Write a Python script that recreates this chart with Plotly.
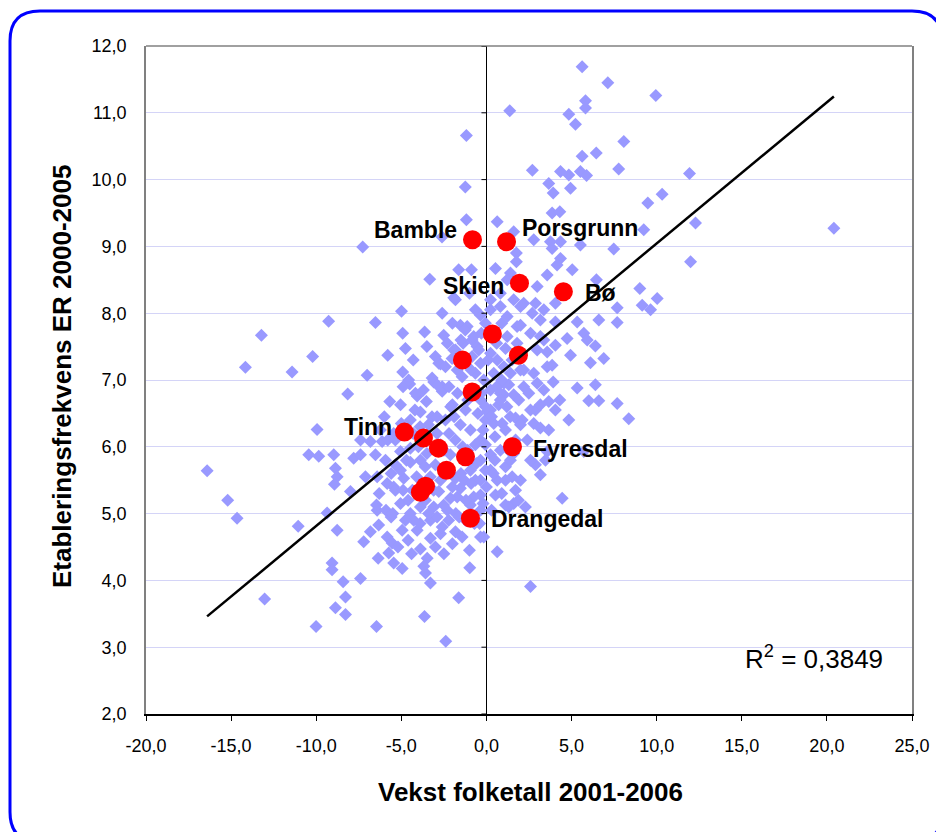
import numpy as np
import plotly.graph_objects as go

# ---------------- data ----------------
# all municipalities (blue diamonds)
blue_x = [
    -1.18, -1.24, -1.18, -2.61, -7.27, -1.63, -0.88, -3.33, -1.92, 0.63, 0.53, -4.99, -9.27, -6.52,
    -13.22, -4.92, -3.63, -2.51, -4.76, -10.21, -5.80, -1.53, -1.13, -0.35, 0.24, -1.37, -0.55,
    5.62, 7.13, 9.95, 5.82, 5.82, 1.37, 4.84, 5.23, 8.07, 5.62, 6.45, 2.70, 4.35, 4.84, 5.52, 5.88,
    7.77, 11.93, 3.66, 3.92, 4.94, 9.48, 10.32, 3.86, 4.31, 1.60, 2.78, 3.76, 4.35, 3.86, 5.52,
    9.24, 12.28, 20.41, 7.48, 11.99, 1.76, 1.76, 4.35, 4.15, 5.04, 3.57, 1.41, 6.46, 9.01, 10.03,
    9.15, 9.64, 7.68, 7.68, 6.60, 2.98, 4.05, 2.88, 1.60, 2.00, 3.17, 4.05, 5.33, 5.72, 5.92, 4.74,
    6.40, 4.05, 3.57, 6.89, 4.94, 0.82, 1.22, 0.24, 1.80,
    6.11, 3.86, 6.40, 5.33, 3.92, 2.98, 6.01, 6.60, 7.68, 8.36, 4.84, 3.66, 4.31, 2.88, 2.49, 1.71,
    2.10, 2.78, 3.66, 3.17, 0.43, 0.92, 0.04, 0.72, 5.72, 3.57, 2.88, 1.12, 1.51, 0.63, 4.45, 1.60,
    1.31, -0.16, 0.63, 2.59, 2.19, 1.31, 1.02, 0.24, -0.06,
    -14.16, -11.42, -7.01, -8.15, -5.68, -4.92, -4.51, -4.07, -3.53, -3.10, -2.60, -2.70, -1.82,
    -16.41, -15.20, -14.65, -11.06, -9.95, -10.44, -9.85, -8.97, -8.87, -8.77, -8.93, -9.36, -8.77,
    -7.99, -7.80, -7.40, -7.11, -6.42, -6.46, -6.42, -7.21, -6.82, -6.33, -5.60, -5.83, -6.36, -5.54,
    -5.74, -5.45, -4.95, -4.95, -9.07, -9.07, -7.40, -8.42, -8.28, -8.87, -8.28, -13.03, -10.01,
    -6.46, -3.64, -2.39, -1.63, -0.98, -3.29, -3.88, -3.48, -3.68, -3.58, -3.00, -4.07, -4.47, -4.27,
    -5.05, -2.22, -1.43, -1.82, -0.35, -2.70, -3.29, -6.82, -6.13, -6.23, -7.40, -5.45, -5.05, -5.83,
    -5.45, -4.86, -3.88, -3.10, -2.51, -1.72, -0.75, -2.80,
    -1.82, -1.24, -1.92, -2.80, -2.41, -2.02, -4.57, -4.17, -3.19, -2.90, -2.60, -1.72, -1.43, -0.84,
    -0.84,
    -0.65, -0.75, -0.45, -0.35, -0.65, -0.16, 1.22, 0.82, 2.19, 3.37, 2.69, -0.06, 2.00, 2.59, 3.17,
    1.22, 1.12, 1.80, 2.98, 3.37, 0.24, 0.63, 1.02, 0.43, 1.41, 2.00, 2.78, 3.57, 2.19, 1.02, 0.82,
    1.60, 3.37,
    -5.05, -3.88, -2.00, -1.23, -2.41, -1.53, -0.94, -5.35, -4.47, -1.82, -0.65, -3.88, -3.00, -2.12,
    -5.05, -4.47, -1.82, -0.94, -0.35, -2.70, -4.35, -1.53, -0.65, -3.58, -2.12, -4.76, -3.29, -0.94,
    -1.23, -5.35, -5.35, -5.93, -6.52, -2.70, -3.41, -4.47, -0.06, -0.06, -0.35, 0.24, -0.35,
    -0.35, 0.24, 0.82, 1.12, 1.71, 2.00, 2.59, 3.17, 4.05, 0.82, -0.06, 0.24, 1.12, 1.71, -0.35, 0.53,
    -0.35, 2.00, 2.59, 3.47, 3.17, 1.41, 1.12, 1.88, 2.29,
    -4.20, -3.20, -2.90, -2.20, -1.90, -0.50, -0.20, 0.50, 1.40, 0.60,
    -4.00, -3.50, -2.50, -1.40, -1.10, 0.50, -4.10, -3.30, -2.40, -1.30,
    -0.90, 0.00, -3.90, -3.10, -2.00, -1.20, -0.20, 0.30, -2.90, -1.80,
    -5.60, -5.80, -5.00, -4.30, -6.30, -4.60, -5.90, -6.00, -3.70, -2.20,
    -1.10, -0.60, 0.30, -1.50, -2.30, -3.00, -2.00, -0.30, 0.60, 0.90,
    -4.30, -3.50, -1.00, -2.60, 1.60, 1.90, 1.20, 2.40, 0.90, -0.70,
    -4.60, -3.90, -2.60, -2.00, -1.60, -5.20, -4.40, -2.50, -1.00, -0.40,
    -5.50, -4.90, -3.40, -2.30, -1.50, -0.60, -3.60, -4.70, -2.90, -3.90,
    -1.70, -0.90, 0.10, 0.90, -0.30, 1.50, -2.10, -4.90, 0.40, 1.30,
]
blue_y = [
    10.66, 9.89, 9.40, 9.14, 8.99, 8.65, 8.65, 8.51, 8.23, 9.37, 8.67, 8.03, 7.88, 7.86,
    7.67, 7.70, 7.72, 7.67, 7.47, 7.35, 7.37, 7.82, 7.80, 7.97, 8.05, 7.55, 7.50,
    11.69, 11.45, 11.26, 11.18, 11.07, 11.03, 10.98, 10.83, 10.57, 10.35, 10.40, 10.14, 10.12, 10.07,
    10.12, 10.06, 10.16, 10.09, 9.94, 9.80, 9.87, 9.65, 9.78, 9.50, 9.52, 9.22, 9.10, 9.07, 9.07,
    8.97, 9.02, 9.25, 9.35, 9.27, 8.96, 8.77, 8.90, 8.77, 8.82, 8.72, 8.65, 8.57, 8.60, 8.50, 8.37,
    8.22, 8.12, 8.05, 8.08, 7.86, 7.90, 8.40, 8.15, 8.15, 8.20, 8.10, 7.90, 7.87, 7.87, 7.70, 7.60,
    7.62, 7.51, 7.52, 7.42, 7.32, 7.37, 8.10, 7.95, 8.20, 7.80,
    7.26, 7.22, 6.93, 6.88, 6.97, 6.95, 6.69, 6.69, 6.65, 6.42, 6.40, 6.68, 6.70, 6.55, 6.80, 6.43,
    6.40, 6.35, 6.25, 6.28, 6.35, 6.35, 6.53, 6.63, 5.93, 5.93, 5.73, 5.70, 5.55, 5.50, 5.23, 5.15,
    5.10, 4.65, 4.43, 3.91, 7.15, 6.93, 6.78, 6.85, 6.60,
    7.19, 7.12, 7.07, 6.79, 6.68, 7.12, 6.94, 6.76, 6.68, 6.97, 6.90, 7.24, 7.45,
    5.64, 5.20, 4.93, 4.81, 6.26, 5.88, 5.86, 5.88, 5.68, 5.55, 5.44, 5.01, 4.75,
    5.33, 5.83, 5.88, 5.55, 5.55, 5.13, 5.05, 4.58, 4.73, 4.83, 4.95, 4.65, 4.33, 4.56,
    4.41, 4.26, 4.18, 4.75, 4.26, 4.16, 4.03, 3.98, 3.75, 3.59, 3.49, 3.72, 3.31,
    3.31, 3.46, 3.09, 3.74, 4.19, 3.96, 4.47, 4.33, 4.21, 4.11, 4.50, 4.75, 5.00, 4.90,
    5.15, 4.90, 4.65, 4.73, 4.65, 4.70, 4.63, 6.08, 6.08, 6.25, 6.10, 6.20, 5.93, 5.45,
    5.40, 5.53, 5.10, 5.10, 5.13, 5.25, 5.25, 5.33,
    8.20, 7.75, 7.45, 7.25, 7.20, 7.32, 7.00, 6.80, 7.03, 6.93, 6.83, 7.15, 7.05, 7.60,
    7.35,
    8.05, 7.65, 7.45, 7.25, 7.10, 7.00, 8.50, 8.30, 8.15, 8.05, 8.00, 7.85, 7.82, 7.70, 7.65,
    7.65, 7.47, 7.55, 7.45, 7.60, 7.40, 7.30, 7.20, 7.10, 7.10, 7.15, 7.10, 7.20, 6.90, 6.95, 6.80,
    6.78, 6.85,
    6.63, 6.52, 6.63, 6.55, 6.40, 6.33, 6.25, 6.10, 5.98, 6.10, 6.03, 5.80, 5.73, 5.88,
    5.65, 5.77, 5.53, 5.65, 5.80, 5.50, 5.35, 5.38, 5.50, 5.20, 5.23, 4.90, 4.90, 5.13,
    4.90, 5.35, 5.73, 5.80, 5.88, 6.03, 6.33, 6.40, 6.40, 5.65, 5.28, 5.88, 6.10,
    6.70, 6.55, 6.70, 6.25, 6.10, 6.33, 6.55, 6.63, 6.55, 5.95, 6.03, 5.65, 5.50, 5.35, 5.50, 5.28,
    5.05, 5.50, 5.80, 5.80, 5.58, 5.80, 5.13, 5.20, 5.10,
    6.55, 6.45, 6.20, 6.20, 6.45, 6.50, 6.25, 6.15, 6.45, 6.90,
    6.00, 5.90, 5.95, 6.00, 5.95, 5.80, 5.55, 5.55, 5.60, 5.50,
    5.45, 5.40, 5.30, 5.35, 5.40, 5.20, 5.15, 5.05, 4.95, 5.00,
    5.60, 6.10, 6.35, 6.20, 5.30, 5.20, 5.05, 6.45, 6.85, 6.90,
    6.70, 6.85, 6.45, 7.60, 7.55, 7.35, 7.85, 7.70, 7.55, 7.85,
    7.30, 7.50, 8.30, 8.00, 5.90, 6.70, 6.60, 6.10, 5.30, 4.85,
    4.60, 4.85, 4.80, 4.55, 4.95, 4.50, 4.40, 4.40, 4.45, 4.85,
    5.00, 5.35, 5.00, 5.05, 5.60, 5.75, 5.70, 5.80, 6.45, 6.30,
    6.80, 7.15, 7.30, 7.00, 6.80, 7.30, 6.60, 6.90, 5.60, 5.95,
]

# Telemark municipalities (red circles)
red_names = ["Bamble", "Porsgrunn", "Skien", "Bø", "", "", "", "", "Tinn", "", "", "", "", "", "",
             "Drangedal", "Fyresdal"]
red_x = [-0.82, 1.18, 1.94, 4.52, 0.35, 1.88, -1.41, -0.84, -4.82, -3.70, -2.82, -1.23, -2.35,
         -3.58, -3.88, -0.94, 1.53]
red_y = [9.10, 9.07, 8.45, 8.32, 7.69, 7.37, 7.30, 6.82, 6.22, 6.13, 5.98, 5.85, 5.65,
         5.41, 5.32, 4.93, 6.00]

# linear trendline (Excel) and its R²
trend_slope = 0.2114
trend_intercept = 6.93
r2_text = "R<sup>2</sup> = 0,3849"

x_ticks = [-20, -15, -10, -5, 0, 5, 10, 15, 20, 25]
x_tick_labels = ["-20,0", "-15,0", "-10,0", "-5,0", "0,0", "5,0", "10,0", "15,0", "20,0", "25,0"]
y_ticks = [2, 3, 4, 5, 6, 7, 8, 9, 10, 11, 12]
y_tick_labels = ["2,0", "3,0", "4,0", "5,0", "6,0", "7,0", "8,0", "9,0", "10,0", "11,0", "12,0"]

x_title = "Vekst folketall 2001-2006"
y_title = "Etableringsfrekvens ER 2000-2005"

# ---------------- styling ----------------
FONT = "Arial, 'Liberation Sans', sans-serif"
label_offsets = {  # (xanchor, xshift px, yshift px)
    "Bamble": ("right", -13, 10),
    "Porsgrunn": ("left", 13, 14),
    "Skien": ("right", -13, -3),
    "Bø": ("left", 20, -1),
    "Tinn": ("right", -10, 5),
    "Fyresdal": ("left", 19, -2),
    "Drangedal": ("left", 19, -1),
}

# page is offset by the default 8px body margin; figure fills the rest of the 944x832 window
OFF = 8
W, H = 944 - OFF, 832 - OFF
PL, PR, PT, PB = 146, 912, 46, 714          # plot area in page pixels
L, R, T, B = PL - OFF, 944 - PR, PT - OFF, 832 - PB
pw, ph = PR - PL, PB - PT


def px2paper_x(px):
    return (px - PL) / pw


def px2paper_y(py):
    return (PB - py) / ph


fig = go.Figure()

fig.add_trace(go.Scatter(
    x=blue_x, y=blue_y, mode="markers",
    marker=dict(symbol="diamond", size=10, color="#9999ff", line=dict(width=0)),
    hoverinfo="skip", showlegend=False,
))
fig.add_trace(go.Scatter(
    x=red_x, y=red_y, mode="markers",
    marker=dict(symbol="circle", size=19, color="#ff0000", line=dict(width=0)),
    text=red_names, hoverinfo="text", showlegend=False,
))

all_x = np.array(blue_x + red_x)
tx = np.array([all_x.min(), all_x.max()])
ty = trend_slope * tx + trend_intercept
fig.add_trace(go.Scatter(
    x=tx, y=ty, mode="lines", line=dict(color="black", width=2.5),
    hoverinfo="skip", showlegend=False,
))

annotations = []
for name, xv, yv in zip(red_names, red_x, red_y):
    if not name:
        continue
    anchor, xs, ys = label_offsets[name]
    annotations.append(dict(
        x=xv, y=yv, xref="x", yref="y", text=f"<b>{name}</b>", showarrow=False,
        xanchor=anchor, yanchor="middle", xshift=xs, yshift=ys,
        font=dict(family=FONT, size=23, color="black"),
    ))

annotations.append(dict(
    x=px2paper_x(814), y=px2paper_y(657), xref="paper", yref="paper", text=r2_text,
    showarrow=False, xanchor="center", yanchor="middle",
    font=dict(family=FONT, size=26, color="black"),
))
annotations.append(dict(
    x=px2paper_x(530), y=px2paper_y(792), xref="paper", yref="paper", text=f"<b>{x_title}</b>",
    showarrow=False, xanchor="center", yanchor="middle",
    font=dict(family=FONT, size=26, color="black"),
))
annotations.append(dict(
    x=px2paper_x(62), y=px2paper_y(377), xref="paper", yref="paper", text=f"<b>{y_title}</b>",
    showarrow=False, xanchor="center", yanchor="middle", textangle=-90,
    font=dict(family=FONT, size=26, color="black"),
))

shapes = []
# top frame line
shapes.append(dict(type="line", xref="paper", yref="paper", x0=0, x1=1, y0=1, y1=1,
                   line=dict(color="#808080", width=1.5)))
# tick marks on the vertical axis crossing at x=0
for v in y_ticks:
    shapes.append(dict(type="line", xref="x", yref="y", xsizemode="pixel", xanchor=0,
                       x0=-5, x1=0, y0=v, y1=v, line=dict(color="black", width=1)))
# rounded blue outer frame (runs past the bottom edge of the window)
fl, fr = px2paper_x(10), px2paper_x(942)
ft, fb = px2paper_y(11), px2paper_y(842)
rx, ry = 30 / pw, 30 / ph
path = (f"M {fl+rx},{ft} L {fr-rx},{ft} Q {fr},{ft} {fr},{ft-ry} "
        f"L {fr},{fb+ry} Q {fr},{fb} {fr-rx},{fb} "
        f"L {fl+rx},{fb} Q {fl},{fb} {fl},{fb+ry} "
        f"L {fl},{ft-ry} Q {fl},{ft} {fl+rx},{ft} Z")
shapes.append(dict(type="path", xref="paper", yref="paper", path=path,
                   line=dict(color="#0000ff", width=3), fillcolor="rgba(0,0,0,0)"))

fig.update_layout(
    width=W, height=H,
    margin=dict(l=L, r=R, t=T, b=B, pad=0),
    paper_bgcolor="white", plot_bgcolor="white",
    font=dict(family=FONT, size=18, color="black"),
    annotations=annotations, shapes=shapes,
    showlegend=False,
)
fig.update_xaxes(
    range=[-20, 25], tickvals=x_ticks, ticktext=x_tick_labels,
    showgrid=False, zeroline=True, zerolinecolor="black", zerolinewidth=1,
    showline=True, linecolor="black", linewidth=1.5, mirror=False,
    ticks="outside", ticklen=5, tickcolor="black", tickwidth=1,
    ticklabelstandoff=10, tickfont=dict(family=FONT, size=18, color="black"),
)
fig.update_yaxes(
    range=[2, 12], tickvals=y_ticks, ticktext=y_tick_labels,
    showgrid=True, gridcolor="#d4d4f7", gridwidth=1, zeroline=False,
    showline=True, linecolor="#808080", linewidth=1.5, mirror=True,
    ticks="", ticklabelstandoff=14, tickfont=dict(family=FONT, size=18, color="black"),
)

fig.write_html("out.html")
